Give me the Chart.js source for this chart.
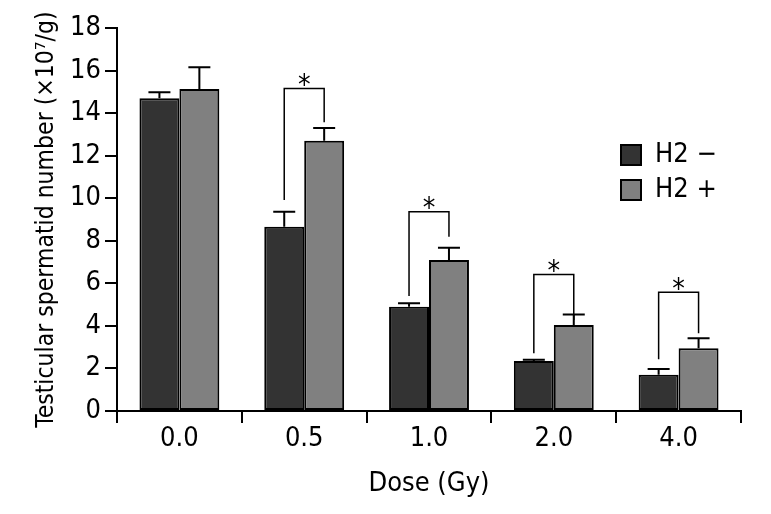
<!DOCTYPE html>
<html>
<head>
<meta charset="utf-8">
<script src="https://cdn.jsdelivr.net/npm/chart.js@4/dist/chart.umd.min.js"></script>
<style>
  html, body { margin: 0; padding: 0; background: #fff; }
  #wrap { width: 771px; height: 514px; }
</style>
</head>
<body>
<div id="wrap"><canvas id="chart" width="771" height="514"></canvas></div>
<script>
const FONT = '"DejaVu Sans", sans-serif';
// font-stretch goes in the weight slot of Chart.js' font string
const NARROW = 'condensed';

// categories and values
const doses = ['0.0', '0.5', '1.0', '2.0', '4.0'];
const h2Minus = [14.7, 8.66, 4.9, 2.35, 1.7];
const h2MinusErr = [0.28, 0.71, 0.16, 0.06, 0.27];
const h2Plus = [15.13, 12.7, 7.1, 4.04, 2.95];
const h2PlusErr = [1.02, 0.6, 0.57, 0.5, 0.47];

// significance brackets: top line, left leg end, right leg end (y values)
const bracketTop = [null, 15.16, 9.37, 6.41, 5.58];
const bracketLeft = [null, 9.92, 5.40, 2.71, 2.43];
const bracketRight = [null, 13.57, 8.19, 4.28, 3.65];

const seriesNames = ['H2 \u2212', 'H2 +'];
const seriesColors = ['#333333', '#808080'];

// error bars + brackets + legend
const extras = {
  id: 'extras',
  afterDatasetsDraw(chart) {
    const ctx = chart.ctx;
    const y = chart.scales.y;
    const errs = [h2MinusErr, h2PlusErr];
    ctx.save();
    ctx.strokeStyle = '#000';
    ctx.lineWidth = 2;
    // error bars
    chart.data.datasets.forEach((ds, di) => {
      const meta = chart.getDatasetMeta(di);
      meta.data.forEach((bar, i) => {
        const top = y.getPixelForValue(ds.data[i] + errs[di][i]);
        ctx.beginPath();
        ctx.moveTo(bar.x, bar.y);
        ctx.lineTo(bar.x, top);
        ctx.moveTo(bar.x - 11, top);
        ctx.lineTo(bar.x + 11, top);
        ctx.stroke();
      });
    });
    // brackets
    const m0 = chart.getDatasetMeta(0), m1 = chart.getDatasetMeta(1);
    ctx.lineWidth = 1.5;
    ctx.fillStyle = '#000';
    ctx.font = NARROW + ' 28px ' + FONT;
    ctx.textAlign = 'center';
    ctx.textBaseline = 'middle';
    bracketTop.forEach((t, i) => {
      if (t === null) return;
      const x0 = m0.data[i].x, x1 = m1.data[i].x;
      const yt = y.getPixelForValue(t);
      ctx.beginPath();
      ctx.moveTo(x0, y.getPixelForValue(bracketLeft[i]));
      ctx.lineTo(x0, yt);
      ctx.lineTo(x1, yt);
      ctx.lineTo(x1, y.getPixelForValue(bracketRight[i]));
      ctx.stroke();
      ctx.fillText('*', (x0 + x1) / 2, yt - 2);
    });
    // legend
    ctx.font = NARROW + ' 27px ' + FONT;
    ctx.textAlign = 'left';
    ctx.lineWidth = 2;
    seriesNames.forEach((name, k) => {
      const ly = 145 + k * 35;
      ctx.fillStyle = seriesColors[k];
      ctx.fillRect(621, ly, 20, 20);
      ctx.strokeRect(621, ly, 20, 20);
      ctx.fillStyle = '#000';
      ctx.fillText(name, 655, ly + 10);
    });
    ctx.restore();
  }
};

new Chart(document.getElementById('chart'), {
  type: 'bar',
  plugins: [extras],
  data: {
    labels: doses,
    datasets: [
      { label: seriesNames[0], data: h2Minus, backgroundColor: seriesColors[0] },
      { label: seriesNames[1], data: h2Plus, backgroundColor: seriesColors[1] }
    ]
  },
  options: {
    responsive: false,
    animation: false,
    layout: { padding: { top: 28, right: 30, left: 0, bottom: 0 } },
    datasets: {
      bar: {
        borderColor: '#000',
        borderWidth: 2,
        borderSkipped: false,
        categoryPercentage: 0.64,
        barPercentage: 1.0
      }
    },
    plugins: {
      legend: { display: false },
      tooltip: { enabled: false }
    },
    scales: {
      x: {
        afterFit(s) { s.height = 103; },
        grid: { drawOnChartArea: false, drawTicks: true, tickLength: 12, color: '#000', lineWidth: 2, offset: true },
        border: { display: true, color: '#000', width: 2 },
        ticks: { color: '#000', font: { family: FONT, weight: NARROW, size: 27 }, padding: 0 },
        title: {
          display: true, text: 'Dose (Gy)', color: '#000',
          font: { family: FONT, weight: NARROW, size: 27 }, padding: { top: 6, bottom: 14 }
        }
      },
      y: {
        min: 0, max: 18,
        afterFit(s) { s.width = 117; },
        grid: { drawOnChartArea: false, drawTicks: true, tickLength: 12, color: '#000', lineWidth: 2 },
        border: { display: true, color: '#000', width: 2 },
        ticks: { stepSize: 2, color: '#000', font: { family: FONT, weight: NARROW, size: 27 }, padding: 4 },
        title: {
          display: true, text: 'Testicular spermatid number (\u00d710\u2077/g)', color: '#000',
          font: { family: FONT, weight: NARROW, size: 24.5 }, padding: { top: 32, bottom: 6 }
        }
      }
    }
  }
});
</script>
</body>
</html>
